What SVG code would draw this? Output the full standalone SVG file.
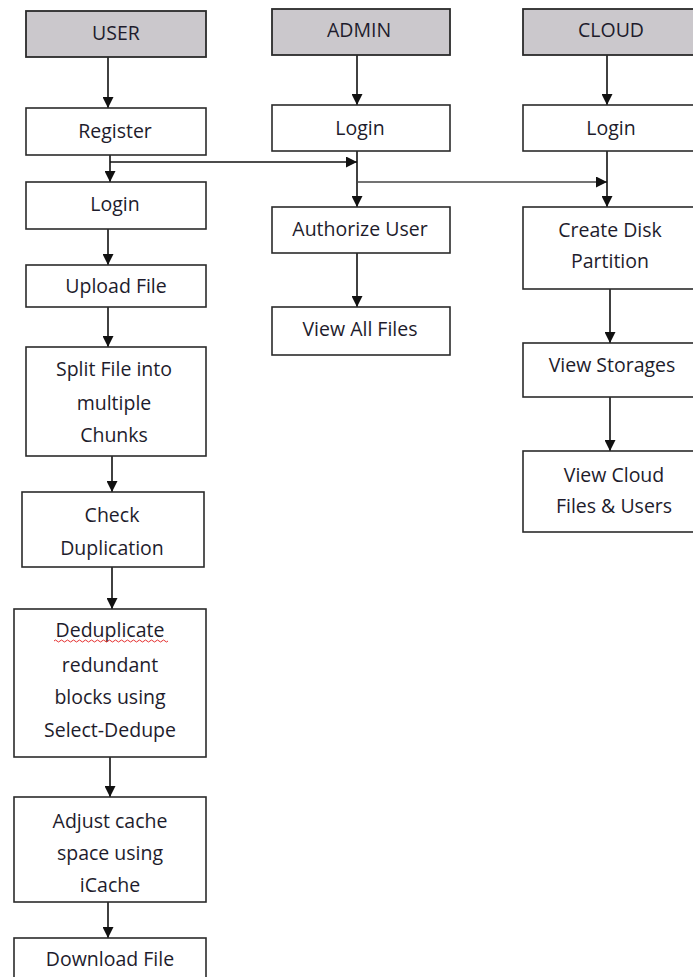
<svg xmlns="http://www.w3.org/2000/svg" width="693" height="977" viewBox="0 0 693 977">
<defs>
<style>
.box{fill:#fff;stroke:#2b2b2b;stroke-width:1.6}
.hdr{fill:#cbc8cc;stroke:#2b2b2b;stroke-width:1.8}
.t{font-family:"Open Sans","Noto Sans",sans-serif;font-size:19.5px;fill:#1e1c2c;text-anchor:middle}
.c{stroke:#111;stroke-width:1.6;fill:none}
.c2{stroke:#444;stroke-width:1.3;fill:none}
</style>
<marker id="ah" viewBox="0 0 10 10" refX="10" refY="5" markerWidth="11" markerHeight="11" markerUnits="userSpaceOnUse" orient="auto">
<path d="M0,0 L10,5 L0,10 Z" fill="#111"/>
</marker>
</defs>
<rect width="693" height="977" fill="#fff"/>

<g id="connectors">
<path class="c" d="M108,57 V108" marker-end="url(#ah)"/>
<path class="c" d="M110,155 V182" marker-end="url(#ah)"/>
<path class="c" d="M110,162 H357" marker-end="url(#ah)"/>
<path class="c" d="M108,229 V265" marker-end="url(#ah)"/>
<path class="c" d="M108,307 V347" marker-end="url(#ah)"/>
<path class="c" d="M112,456 V492" marker-end="url(#ah)"/>
<path class="c" d="M112,567 V609" marker-end="url(#ah)"/>
<path class="c" d="M110,757 V797" marker-end="url(#ah)"/>
<path class="c" d="M108,902 V938" marker-end="url(#ah)"/>
<path class="c" d="M357,55 V105" marker-end="url(#ah)"/>
<path class="c" d="M357,151 V207" marker-end="url(#ah)"/>
<path class="c2" d="M357,182 H607" marker-end="url(#ah)"/>
<path class="c" d="M357,253 V307" marker-end="url(#ah)"/>
<path class="c" d="M607,55 V105" marker-end="url(#ah)"/>
<path class="c" d="M607,151 V207" marker-end="url(#ah)"/>
<path class="c" d="M610,289 V343" marker-end="url(#ah)"/>
<path class="c" d="M610,397 V451" marker-end="url(#ah)"/>
</g>

<g id="user"><rect class="hdr" x="26" y="11" width="180" height="46"/><text class="t" x="116" y="40">USER</text></g>
<g id="register"><rect class="box" x="26" y="108" width="180" height="47"/><text class="t" x="115" y="138">Register</text></g>
<g id="user-login"><rect class="box" x="26" y="182" width="180" height="47"/><text class="t" x="115" y="211">Login</text></g>
<g id="upload"><rect class="box" x="26" y="265" width="180" height="42"/><text class="t" x="116" y="293">Upload File</text></g>
<g id="split"><rect class="box" x="26" y="347" width="180" height="109"/>
<text class="t" x="114" y="376">Split File into</text>
<text class="t" x="114" y="410">multiple</text>
<text class="t" x="114" y="442">Chunks</text></g>
<g id="check"><rect class="box" x="22" y="492" width="182" height="75"/>
<text class="t" x="112" y="522">Check</text>
<text class="t" x="112" y="555">Duplication</text></g>
<g id="dedupe"><rect class="box" x="14" y="609" width="192" height="148"/>
<text class="t" x="110" y="637">Deduplicate</text>
<path d="M54,641 q1.5,-2 3,0 t3,0 t3,0 t3,0 t3,0 t3,0 t3,0 t3,0 t3,0 t3,0 t3,0 t3,0 t3,0 t3,0 t3,0 t3,0 t3,0 t3,0 t3,0 t3,0 t3,0 t3,0 t3,0 t3,0 t3,0 t3,0 t3,0 t3,0 t3,0 t3,0 t3,0 t3,0 t3,0 t3,0 t3,0 t3,0 t3,0 t3,0" fill="none" stroke="#e53030" stroke-width="1"/>
<text class="t" x="110" y="672">redundant</text>
<text class="t" x="110" y="704">blocks using</text>
<text class="t" x="110" y="737">Select-Dedupe</text></g>
<g id="adjust"><rect class="box" x="14" y="797" width="192" height="105"/>
<text class="t" x="110" y="828">Adjust cache</text>
<text class="t" x="110" y="860">space using</text>
<text class="t" x="110" y="892">iCache</text></g>
<g id="download"><rect class="box" x="14" y="938" width="192" height="50"/><text class="t" x="110" y="966">Download File</text></g>

<g id="admin"><rect class="hdr" x="272" y="9" width="178" height="46"/><text class="t" x="359" y="37">ADMIN</text></g>
<g id="admin-login"><rect class="box" x="272" y="105" width="178" height="46"/><text class="t" x="360" y="135">Login</text></g>
<g id="authorize"><rect class="box" x="272" y="207" width="178" height="46"/><text class="t" x="360" y="236">Authorize User</text></g>
<g id="view-all"><rect class="box" x="272" y="307" width="178" height="48"/><text class="t" x="360" y="336">View All Files</text></g>

<g id="cloud"><rect class="hdr" x="523" y="9" width="176" height="46"/><text class="t" x="611" y="37">CLOUD</text></g>
<g id="cloud-login"><rect class="box" x="523" y="105" width="176" height="46"/><text class="t" x="611" y="135">Login</text></g>
<g id="disk"><rect class="box" x="523" y="207" width="176" height="82"/>
<text class="t" x="610" y="237">Create Disk</text>
<text class="t" x="610" y="268">Partition</text></g>
<g id="storages"><rect class="box" x="523" y="343" width="176" height="54"/><text class="t" x="612" y="372">View Storages</text></g>
<g id="cloud-files"><rect class="box" x="523" y="451" width="176" height="81"/>
<text class="t" x="614" y="482">View Cloud</text>
<text class="t" x="614" y="513">Files &amp; Users</text></g>
</svg>
